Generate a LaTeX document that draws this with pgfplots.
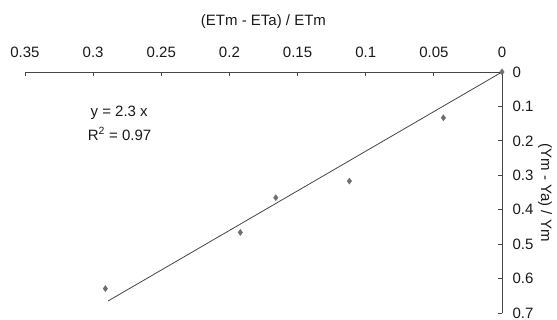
\documentclass[border=0pt]{standalone}
\usepackage{fontspec}
\setmainfont{Liberation Sans}
\usepackage{pgfplots}
\pgfplotsset{compat=1.18}
\definecolor{axgray}{HTML}{454545}
\definecolor{mkgray}{HTML}{6E6E6E}
\begin{document}
\begin{tikzpicture}
\begin{axis}[
  at={(0,0)}, anchor=south west,
  scale only axis, width=477pt, height=241pt,
  xmin=0, xmax=0.35, ymin=0, ymax=0.7,
  x dir=reverse, y dir=reverse,
  axis x line*=top, axis y line*=right,
  axis line style={axgray, line width=0.8pt},
  tick style={axgray, line width=0.8pt},
  tick align=inside, major tick length=4pt,
  xtick={0,0.05,0.1,0.15,0.2,0.25,0.3,0.35},
  ytick={0,0.1,0.2,0.3,0.4,0.5,0.6,0.7},
  xticklabels={0,0.05,0.1,0.15,0.2,0.25,0.3,0.35},
  yticklabels={0,0.1,0.2,0.3,0.4,0.5,0.6,0.7},
  /pgf/number format/assume math mode=true,
  tick label style={font=\fontsize{15}{18}\selectfont, text=black!90},
  xticklabel style={yshift=11pt},
  yticklabel style={xshift=7pt},
  xlabel={(ETm - ETa) / ETm},
  ylabel={(Ym - Ya) / Ym},
  label style={font=\fontsize{15}{18}\selectfont, text=black!90},
  xlabel style={at={(axis description cs:0.5,1.21)}, anchor=center},
  ylabel style={at={(axis description cs:1.09,0.5)}, anchor=center, rotate=180},
  clip=false,
]
\addplot[axgray, line width=0.8pt, no marks] coordinates {(0,0) (0.289,0.665)};
\addplot[only marks, mark=diamond*, mark size=3pt, mark options={fill=mkgray, draw=mkgray}] coordinates {
  (0,0) (0.043,0.133) (0.112,0.317) (0.166,0.365) (0.192,0.466) (0.291,0.629)
};
\node[anchor=west, font=\fontsize{15}{18}\selectfont, text=black!90, inner sep=0pt] at (axis cs:0.302,0.119) {y = 2.3 x};
\node[anchor=west, font=\fontsize{15}{18}\selectfont, text=black!90, inner sep=0pt] at (axis cs:0.304,0.18) {R\textsuperscript{2} = 0.97};
\end{axis}
\pgfresetboundingbox
\path (-25pt,-7pt) rectangle (532pt,313pt);
\end{tikzpicture}
\end{document}
